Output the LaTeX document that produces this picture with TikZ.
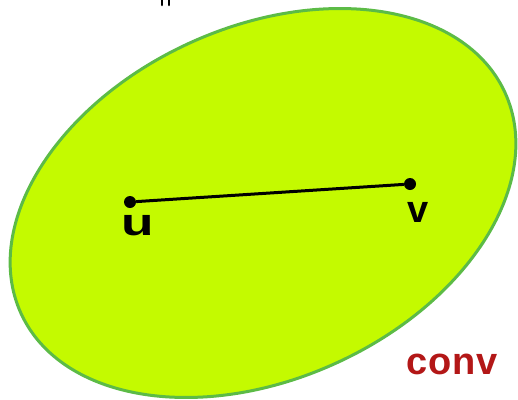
\documentclass[tikz,border=0pt]{standalone}
\usepackage{fontspec}
\setmainfont{Liberation Sans}
\definecolor{blobfill}{HTML}{C4FA00}
\definecolor{blobedge}{HTML}{5CBB46}
\definecolor{convred}{HTML}{B31717}
\begin{document}
\begin{tikzpicture}[x=1pt,y=-1pt,
  pt/.style={circle,fill=black,inner sep=0pt,minimum size=12pt},
  hand/.style={inner sep=0pt,font=\fontsize{38}{38}\bfseries\selectfont},
  seg/.style={line width=2.6pt,line cap=round}]
\useasboundingbox (0,0) rectangle (518,399);
\clip (0,0) rectangle (518,399);
\fill[white] (0,0) rectangle (518,399);
\draw[fill=blobfill,draw=blobedge,line width=3pt,rotate around={24.5:(263,203)}]
  (263,203) ellipse [x radius=266, y radius=176];
\draw[seg] (162,0) -- (162,5);
\draw[seg] (169,0) -- (169,5);
\node[pt] (u) at (130,202) {};
\node[pt] (v) at (410,184) {};
\draw[line width=3pt] (u) -- (v);
\node[hand,xscale=1.4] (ul) at (138,226) {u};
\node[hand] (vl) at (418,212) {v};
\node[anchor=west,inner sep=0pt,text=convred,font=\fontsize{38}{38}\bfseries\selectfont] (conv) at (406,364) {c\kern1pt o\kern1pt n\kern1pt v};
\end{tikzpicture}
\end{document}
